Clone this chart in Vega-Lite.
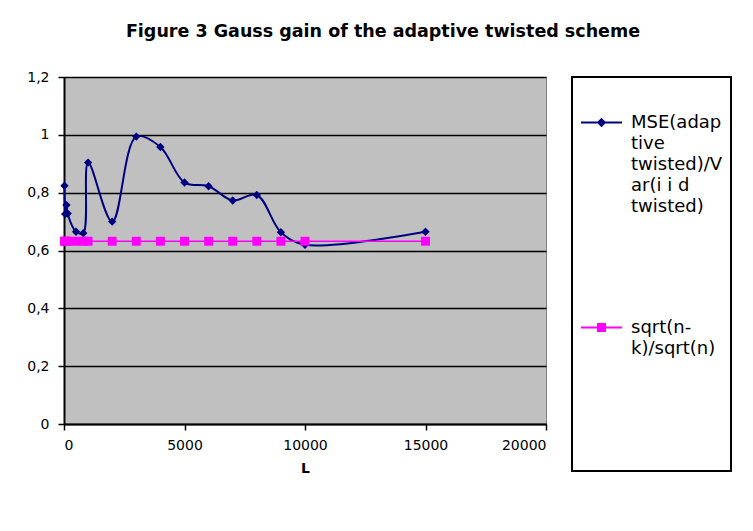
{
  "$schema": "https://vega.github.io/schema/vega-lite/v6.json",
  "width": 482,
  "height": 347,
  "autosize": "none",
  "padding": {"left": 64, "top": 77, "right": 207, "bottom": 107},
  "background": "white",
  "title": {"text": "Figure 3 Gauss gain of the adaptive twisted scheme", "font": "DejaVu Sans", "fontSize": 17.5, "fontWeight": "bold", "anchor": "middle", "dx": 78, "offset": 30, "color": "black"},
  "config": {
    "view": {"fill": "#C0C0C0", "stroke": "#808080", "strokeWidth": 1},
    "axis": {"domainColor": "black", "domainWidth": 2, "tickColor": "black", "tickWidth": 1.5, "tickSize": 6, "labelFont": "DejaVu Sans", "labelFontSize": 14, "labelColor": "black", "titleFont": "DejaVu Sans", "titleColor": "black"}
  },
  "data": {"values": [
    {"L": 20, "v": 0.824, "series": "MSE"},
    {"L": 50, "v": 0.726, "series": "MSE"},
    {"L": 100, "v": 0.757, "series": "MSE"},
    {"L": 150, "v": 0.728, "series": "MSE"},
    {"L": 500, "v": 0.665, "series": "MSE"},
    {"L": 800, "v": 0.66, "series": "MSE"},
    {"L": 1000, "v": 0.904, "series": "MSE"},
    {"L": 2000, "v": 0.70, "series": "MSE"},
    {"L": 3000, "v": 0.994, "series": "MSE"},
    {"L": 4000, "v": 0.958, "series": "MSE"},
    {"L": 5000, "v": 0.835, "series": "MSE"},
    {"L": 6000, "v": 0.822, "series": "MSE"},
    {"L": 7000, "v": 0.773, "series": "MSE"},
    {"L": 8000, "v": 0.792, "series": "MSE"},
    {"L": 9000, "v": 0.663, "series": "MSE"},
    {"L": 10000, "v": 0.62, "series": "MSE"},
    {"L": 15000, "v": 0.665, "series": "MSE"},
    {"L": 20, "v": 0.632, "series": "sqrt"},
    {"L": 50, "v": 0.632, "series": "sqrt"},
    {"L": 100, "v": 0.632, "series": "sqrt"},
    {"L": 150, "v": 0.632, "series": "sqrt"},
    {"L": 500, "v": 0.632, "series": "sqrt"},
    {"L": 800, "v": 0.632, "series": "sqrt"},
    {"L": 1000, "v": 0.632, "series": "sqrt"},
    {"L": 2000, "v": 0.632, "series": "sqrt"},
    {"L": 3000, "v": 0.632, "series": "sqrt"},
    {"L": 4000, "v": 0.632, "series": "sqrt"},
    {"L": 5000, "v": 0.632, "series": "sqrt"},
    {"L": 6000, "v": 0.632, "series": "sqrt"},
    {"L": 7000, "v": 0.632, "series": "sqrt"},
    {"L": 8000, "v": 0.632, "series": "sqrt"},
    {"L": 9000, "v": 0.632, "series": "sqrt"},
    {"L": 10000, "v": 0.632, "series": "sqrt"},
    {"L": 15000, "v": 0.632, "series": "sqrt"}
  ]},
  "encoding": {
    "x": {"field": "L", "type": "quantitative", "scale": {"domain": [0, 20000], "nice": false},
      "axis": {"values": [0, 5000, 10000, 15000, 20000], "grid": false, "format": "d", "labelPadding": 8, "title": "L", "titleFontSize": 14, "titleFontWeight": "bold", "titlePadding": 9}},
    "y": {"field": "v", "type": "quantitative", "scale": {"domain": [0, 1.2], "nice": false},
      "axis": {"values": [0, 0.2, 0.4, 0.6, 0.8, 1, 1.2], "grid": true, "gridColor": "black", "gridWidth": 1.5, "gridOpacity": 1, "labelPadding": 9, "title": null,
        "labelExpr": "replace(toString(round(datum.value*10)/10), '.', ',')"}},
    "color": {"field": "series", "type": "nominal", "scale": {"domain": ["MSE", "sqrt"], "range": ["#000080", "#FF00FF"]},
      "legend": {
        "orient": "none", "legendX": 508, "legendY": 0,
        "title": " ", "titleFontSize": 1, "titlePadding": 15,
        "padding": 8, "strokeColor": "black", "fillColor": "white",
        "symbolSize": 1681, "symbolStrokeWidth": 2, "labelFont": "DejaVu Sans", "labelFontSize": 18, "labelColor": "black", "labelOffset": 8, "labelLimit": 400, "rowPadding": 90,
        "labelExpr": "datum.value == 'sqrt' ? ['sqrt(n-', 'k)/sqrt(n)', '', '', '', '', ''] : ['MSE(adap', 'tive', 'twisted)/V', 'ar(i i d', 'twisted)']",
        "encode": {
          "legend": {"update": {"strokeWidth": {"value": 2}}},
          "symbols": {"update": {
            "shape": {"signal": "datum.value == 'sqrt' ? 'M-1,0H1M-0.17,-0.17H0.17V0.17H-0.17Z' : 'M-1,0H1M-0.16,0L0,-0.16L0.16,0L0,0.16Z'"},
            "fill": {"signal": "datum.value == 'sqrt' ? '#FF00FF' : '#000080'"},
            "stroke": {"signal": "datum.value == 'sqrt' ? '#FF00FF' : '#000080'"}}},
          "labels": {"update": {"lineHeight": {"value": 21}}}
        }
      }}
  },
  "layer": [
    {"transform": [{"filter": "datum.series == 'MSE'"}],
     "mark": {"type": "line", "interpolate": "catmull-rom", "strokeWidth": 2}},
    {"transform": [{"filter": "datum.series == 'sqrt'"}],
     "mark": {"type": "line", "strokeWidth": 1.5}},
    {"transform": [{"filter": "datum.series == 'MSE'"}],
     "mark": {"type": "point", "filled": true, "opacity": 1, "size": 70, "shape": "diamond"}},
    {"transform": [{"filter": "datum.series == 'sqrt'"}],
     "mark": {"type": "point", "filled": true, "opacity": 1, "size": 80, "shape": "square"}}
  ]
}
